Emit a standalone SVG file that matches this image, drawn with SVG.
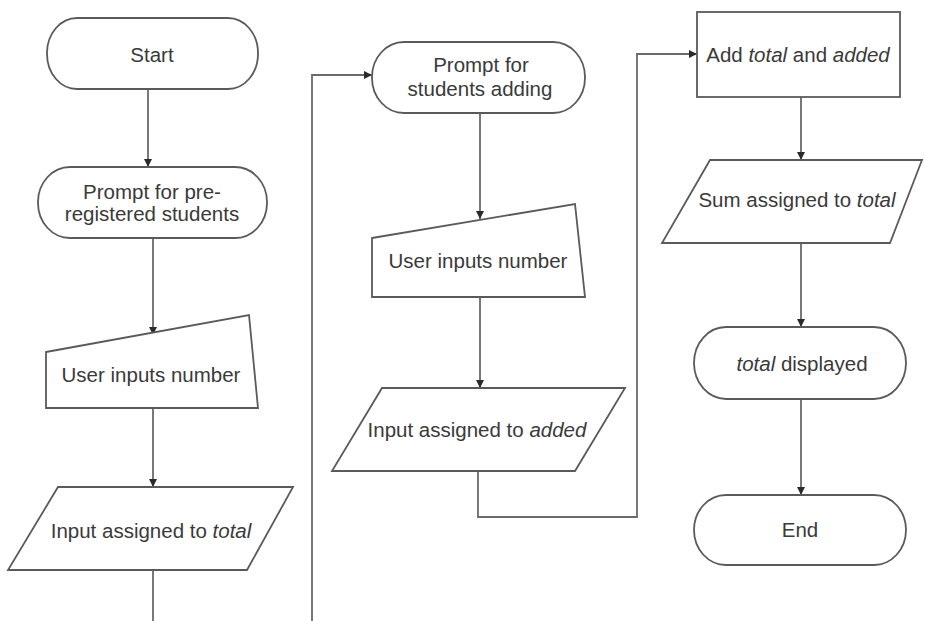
<svg xmlns="http://www.w3.org/2000/svg" width="925" height="621" viewBox="0 0 925 621">
<style>
.shape{fill:#fff;stroke:#5a5a5a;stroke-width:1.8}
.conn{fill:none;stroke:#6a6a6a;stroke-width:1.8}
text{font-family:"Liberation Sans",Arial,sans-serif;font-size:20.5px;fill:#3a3a3a;text-anchor:middle}
.it{font-style:italic}
</style>
<defs>
<marker id="arr" viewBox="0 0 10 10" refX="10" refY="5" markerWidth="8" markerHeight="8" markerUnits="userSpaceOnUse" orient="auto">
<path d="M0,0 L10,5 L0,10 Z" fill="#2a2a2a"/>
</marker>
</defs>
<rect width="925" height="621" fill="#fff"/>
<g id="connectors">
<line class="conn" x1="148" y1="89" x2="148" y2="167" marker-end="url(#arr)"/>
<line class="conn" x1="153" y1="238" x2="153" y2="335" marker-end="url(#arr)"/>
<line class="conn" x1="153" y1="408" x2="153" y2="487" marker-end="url(#arr)"/>
<line class="conn" x1="153" y1="570" x2="153" y2="621"/>
<polyline class="conn" points="312,621 312,75 372,75" marker-end="url(#arr)"/>
<line class="conn" x1="480" y1="113" x2="480" y2="219" marker-end="url(#arr)"/>
<line class="conn" x1="480" y1="297" x2="480" y2="388" marker-end="url(#arr)"/>
<polyline class="conn" points="478,471 478,517 637,517 637,54 697,54" marker-end="url(#arr)"/>
<line class="conn" x1="801" y1="97" x2="801" y2="160" marker-end="url(#arr)"/>
<line class="conn" x1="801" y1="243" x2="801" y2="327" marker-end="url(#arr)"/>
<line class="conn" x1="801" y1="399" x2="801" y2="495" marker-end="url(#arr)"/>
</g>
<g id="start">
<rect class="shape" x="47" y="18" width="211" height="71" rx="30" ry="35"/>
<text x="152" y="62">Start</text>
</g>
<g id="prompt-pre">
<rect class="shape" x="38" y="167" width="229" height="71" rx="32" ry="35"/>
<text x="152" y="199">Prompt for pre-</text>
<text x="152" y="221">registered students</text>
</g>
<g id="input-1">
<path class="shape" d="M46,352 L249,315 L258,408 L46,408 Z"/>
<text x="151" y="382">User inputs number</text>
</g>
<g id="assign-total">
<path class="shape" d="M58,487 L293,487 L247,570 L8,570 Z"/>
<text x="151" y="538">Input assigned to <tspan class="it">total</tspan></text>
</g>
<g id="prompt-adding">
<rect class="shape" x="372" y="42" width="213" height="71" rx="32" ry="35"/>
<text x="481" y="72">Prompt for</text>
<text x="480" y="96">students adding</text>
</g>
<g id="input-2">
<path class="shape" d="M372,238 L575,204 L585,297 L372,297 Z"/>
<text x="478" y="268">User inputs number</text>
</g>
<g id="assign-added">
<path class="shape" d="M382,388 L625,388 L575,471 L332,471 Z"/>
<text x="477" y="437">Input assigned to <tspan class="it">added</tspan></text>
</g>
<g id="add">
<rect class="shape" x="697" y="12" width="203" height="85"/>
<text x="798" y="62">Add <tspan class="it">total</tspan> and <tspan class="it">added</tspan></text>
</g>
<g id="sum-assigned">
<path class="shape" d="M710,160 L922,160 L890,243 L662,243 Z"/>
<text x="797" y="207">Sum assigned to <tspan class="it">total</tspan></text>
</g>
<g id="display">
<rect class="shape" x="694" y="327" width="212" height="72" rx="32" ry="36"/>
<text x="802" y="371"><tspan class="it">total</tspan> displayed</text>
</g>
<g id="end">
<rect class="shape" x="694" y="495" width="212" height="70" rx="32" ry="35"/>
<text x="800" y="537">End</text>
</g>
</svg>
